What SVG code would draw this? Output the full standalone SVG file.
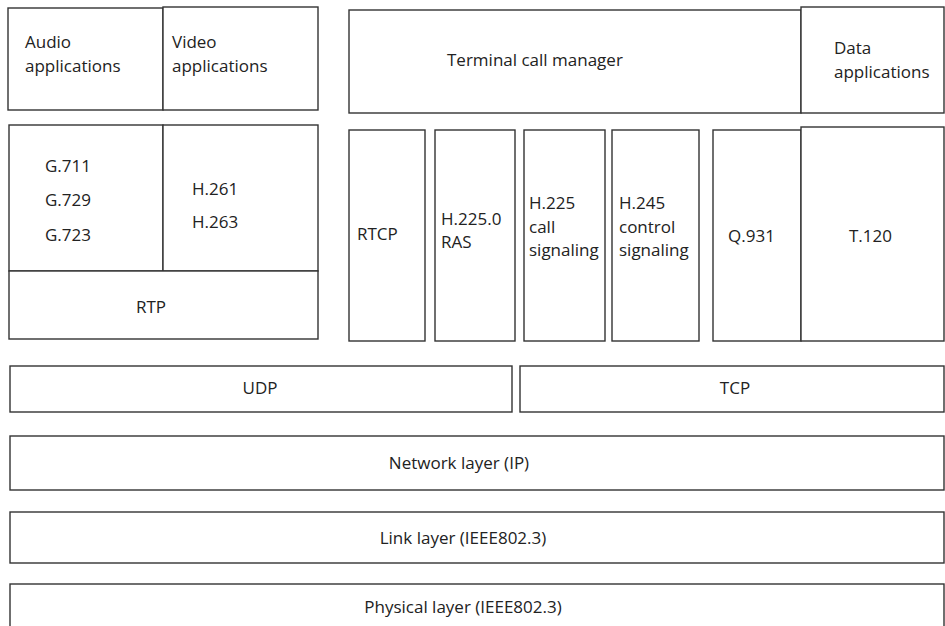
<svg xmlns="http://www.w3.org/2000/svg" width="945" height="626" viewBox="0 0 945 626">
<style>
rect{fill:#fff;stroke:#333;stroke-width:1.4}
text{font-family:"Open Sans","Noto Sans",sans-serif;font-size:17px;fill:#222}
.m{text-anchor:middle}
</style>
<rect x="0" y="0" width="945" height="626" style="fill:#fff;stroke:none"/>
<g id="audio-apps"><rect x="8" y="8" width="155" height="102"/><text x="25" y="48">Audio</text><text x="25" y="71.5">applications</text></g>
<g id="video-apps"><rect x="163" y="7" width="155" height="103"/><text x="172" y="48">Video</text><text x="172" y="71.5">applications</text></g>
<g id="terminal-call-manager"><rect x="349" y="10" width="452" height="103"/><text x="447" y="66">Terminal call manager</text></g>
<g id="data-apps"><rect x="801" y="7" width="143" height="106"/><text x="834" y="54">Data</text><text x="834" y="77.5">applications</text></g>
<g id="audio-codecs"><rect x="9" y="125" width="154" height="146"/><text x="45" y="172">G.711</text><text x="45" y="206">G.729</text><text x="45" y="241">G.723</text></g>
<g id="video-codecs"><rect x="163" y="125" width="155" height="146"/><text x="192" y="195">H.261</text><text x="192" y="228">H.263</text></g>
<g id="rtp"><rect x="9" y="271" width="309" height="68"/><text x="151" y="313" class="m">RTP</text></g>
<g id="rtcp"><rect x="349" y="130" width="76" height="211"/><text x="357" y="240">RTCP</text></g>
<g id="h2250-ras"><rect x="435" y="130" width="80" height="211"/><text x="441" y="224.5">H.225.0</text><text x="441" y="248">RAS</text></g>
<g id="h225-call"><rect x="524" y="130" width="81" height="211"/><text x="529" y="209">H.225</text><text x="529" y="232.5">call</text><text x="529" y="256">signaling</text></g>
<g id="h245-control"><rect x="612" y="130" width="87" height="211"/><text x="619" y="209">H.245</text><text x="619" y="232.5">control</text><text x="619" y="256">signaling</text></g>
<g id="q931"><rect x="713" y="130" width="88" height="211"/><text x="728" y="242">Q.931</text></g>
<g id="t120"><rect x="801" y="127" width="143" height="214"/><text x="849" y="242">T.120</text></g>
<g id="udp"><rect x="10" y="366" width="502" height="46"/><text x="260" y="394" class="m">UDP</text></g>
<g id="tcp"><rect x="520" y="366" width="424" height="46"/><text x="735" y="394" class="m">TCP</text></g>
<g id="network-layer"><rect x="10" y="436" width="934" height="54"/><text x="459" y="469" class="m">Network layer (IP)</text></g>
<g id="link-layer"><rect x="10" y="512" width="934" height="51"/><text x="463" y="544" class="m">Link layer (IEEE802.3)</text></g>
<g id="physical-layer"><rect x="10" y="584" width="934" height="50"/><text x="463" y="613" class="m">Physical layer (IEEE802.3)</text></g>
<g id="connectors"></g>
</svg>
